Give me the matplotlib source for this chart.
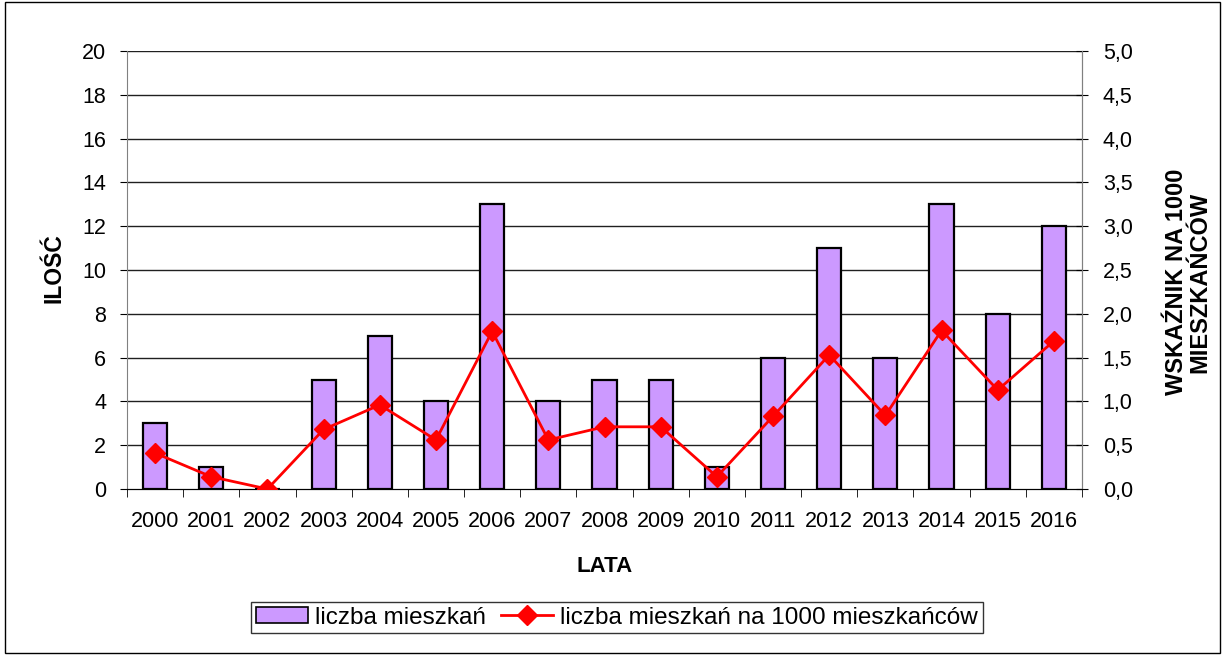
import matplotlib
matplotlib.use("Agg")
import matplotlib.pyplot as plt
from matplotlib.patches import Rectangle
from matplotlib.lines import Line2D
import numpy as np

plt.rcParams['font.family'] = ['Liberation Sans', 'DejaVu Sans']

years = ['2000', '2001', '2002', '2003', '2004', '2005', '2006', '2007', '2008',
         '2009', '2010', '2011', '2012', '2013', '2014', '2015', '2016']
counts = [3, 1, 0, 5, 7, 4, 13, 4, 5, 5, 1, 6, 11, 6, 13, 8, 12]
rate = [0.41, 0.14, 0.0, 0.68, 0.96, 0.56, 1.80, 0.56, 0.71, 0.71, 0.14,
        0.83, 1.53, 0.84, 1.81, 1.13, 1.69]
left_ticks = [0, 2, 4, 6, 8, 10, 12, 14, 16, 18, 20]
right_ticks = [0.0, 0.5, 1.0, 1.5, 2.0, 2.5, 3.0, 3.5, 4.0, 4.5, 5.0]

W, H = 1225, 655
fig = plt.figure(figsize=(W / 100, H / 100), dpi=100)
ax = fig.add_axes([127 / W, 1 - 489 / H, 955 / W, 438 / H])
x = np.arange(len(years))

ax.set_xlim(-0.5, len(years) - 0.5)
ax.set_ylim(0, 20)
ax.set_yticks(left_ticks)
ax.set_yticklabels([str(t) for t in left_ticks], fontsize=15.5)
for t in left_ticks[1:]:
    ax.axhline(t, color='#202020', lw=1.0, zorder=0)

ax.bar(x, counts, width=0.43, color='#CC99FF', edgecolor='black', lw=1.6, zorder=2)

ax.set_xticks(x)
ax.set_xticklabels(years, fontsize=15.5)
ax.tick_params(axis='x', length=0, pad=16)
ax.set_xticks(np.arange(-0.5, len(years) + 0.5, 1), minor=True)
ax.tick_params(axis='x', which='minor', length=6, direction='out', color='black')
ax.tick_params(axis='y', length=5, direction='out', pad=10)

ax.spines['top'].set_visible(False)
ax.spines['right'].set_color('#808080')
ax.spines['left'].set_color('#808080')

ax2 = ax.twinx()
ax2.set_ylim(0, 5)
ax2.set_yticks(right_ticks)
ax2.set_yticklabels([f"{t:.1f}".replace('.', ',') for t in right_ticks], fontsize=15.5)
ax2.tick_params(axis='y', length=8, direction='inout', pad=11)
ax2.spines['top'].set_visible(False)
ax2.spines['right'].set_color('#808080')
ax2.spines['left'].set_visible(False)
ax2.plot(x, rate, color='#FF0000', lw=2, marker='D', markersize=10,
         markeredgecolor='#FF0000', zorder=3)

fig.text(54 / W, 1 - 268 / H, 'ILOŚĆ', fontsize=16.5, fontweight='bold',
         rotation=90, ha='center', va='center')
fig.text(605 / W, 1 - 566 / H, 'LATA', fontsize=16, fontweight='bold',
         ha='center', va='center')
fig.text(1188 / W, 1 - 282 / H, 'WSKAŹNIK NA 1000\nMIESZKAŃCÓW', fontsize=17,
         fontweight='bold', rotation=90, ha='center', va='center',
         multialignment='center', linespacing=1.02)

handles = [Rectangle((0, 0), 1, 1, facecolor='#CC99FF', edgecolor='black', lw=1.2),
           Line2D([0], [0], color='#FF0000', lw=2, marker='D', markersize=10)]
leg = fig.legend(handles, ['liczba mieszkań', 'liczba mieszkań na 1000 mieszkańców'],
                 loc='center', bbox_to_anchor=(617 / W, 1 - 617.5 / H), ncol=2,
                 fontsize=17.5, frameon=True, fancybox=False, edgecolor='black',
                 handlelength=2.15, handleheight=0.6, handletextpad=0.29,
                 columnspacing=0.62, borderpad=0.2, borderaxespad=0)
leg.get_frame().set_linewidth(1.0)

fig.patches.append(Rectangle((0.004, 0.003), 0.992, 0.994, transform=fig.transFigure,
                             fill=False, edgecolor='black', lw=1))

fig.savefig('out.png', dpi=100)
